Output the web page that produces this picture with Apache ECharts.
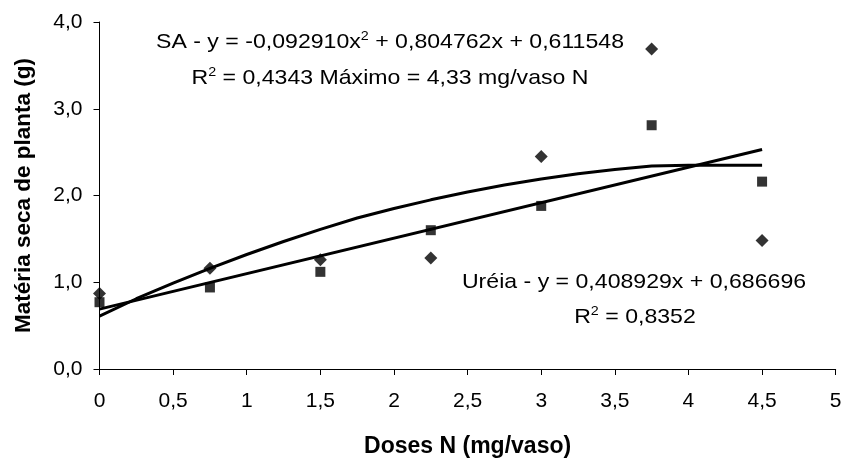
<!DOCTYPE html>
<html>
<head>
<meta charset="utf-8">
<script src="https://cdn.jsdelivr.net/npm/echarts@6/dist/echarts.min.js"></script>
<style>html,body{margin:0;padding:0;background:#fff;}#c{width:845px;height:463px;}</style>
</head>
<body>
<div id="c"></div>
<script>
// Doses N (mg/vaso)
const doses = [0, 0.75, 1.5, 2.25, 3, 3.75, 4.5];
// Observed dry matter (g)
const saValues = [0.87, 1.16, 1.26, 1.28, 2.45, 3.69, 1.48];
const ureiaValues = [0.77, 0.94, 1.12, 1.60, 1.88, 2.81, 2.16];
// Fitted SA curve
const saCurveX = [0, 0.25, 0.5, 0.75, 1, 1.25, 1.5, 1.75, 2, 2.25, 2.5, 2.75, 3, 3.25, 3.5, 3.75, 4, 4.25, 4.5];
const saCurveY = [0.61, 0.81, 0.99, 1.16, 1.32, 1.47, 1.61, 1.74, 1.85, 1.95, 2.04, 2.12, 2.19, 2.25, 2.30, 2.34, 2.35, 2.35, 2.35];
// Fitted Uréia line
const ureiaLineX = [0, 4.5];
const ureiaLineY = [0.69, 2.53];
// Axis ranges
const xTicks = [0, 0.5, 1, 1.5, 2, 2.5, 3, 3.5, 4, 4.5, 5];
const yTicks = [0, 1, 2, 3, 4];

const FONT = 'Liberation Sans, Arial, sans-serif';
const pair = (xs, ys) => xs.map((x, i) => [x, ys[i]]);
const comma = s => String(s).replace('.', ',');

const chart = echarts.init(document.getElementById('c'), null, {renderer: 'canvas'});
const supRich = {
  b: {fontSize: 21, fontFamily: FONT, color: '#000', lineHeight: 24},
  s: {fontSize: 13, fontFamily: FONT, color: '#000', verticalAlign: 'top', lineHeight: 14}
};
chart.setOption({
  backgroundColor: '#fff',
  animation: false,
  grid: {left: 99.5, right: 9.3, top: 22, bottom: 86.7, containLabel: false},
  xAxis: {
    type: 'value', min: xTicks[0], max: xTicks[xTicks.length - 1], interval: 0.5,
    name: 'Doses N (mg/vaso)', nameLocation: 'middle', nameGap: 66,
    nameTextStyle: {fontFamily: FONT, fontWeight: 'bold', fontSize: 23, color: '#000'},
    axisLine: {show: true, lineStyle: {color: '#000', width: 1}},
    axisTick: {show: true, inside: false, length: 6, lineStyle: {color: '#000'}},
    axisLabel: {margin: 22, fontFamily: FONT, fontSize: 21, color: '#000', formatter: v => comma(v)},
    splitLine: {show: false}
  },
  yAxis: {
    type: 'value', min: yTicks[0], max: yTicks[yTicks.length - 1], interval: 1,
    name: 'Matéria seca de planta (g)', nameLocation: 'middle', nameGap: 64, nameRotate: 90,
    nameTextStyle: {fontFamily: FONT, fontWeight: 'bold', fontSize: 22.5, color: '#000'},
    axisLine: {show: true, lineStyle: {color: '#000', width: 1}},
    axisTick: {show: true, inside: false, length: 6, lineStyle: {color: '#000'}},
    axisLabel: {margin: 17, fontFamily: FONT, fontSize: 21, color: '#000', formatter: v => comma(v.toFixed(1))},
    splitLine: {show: false}
  },
  series: [
    {name: 'SA ajuste', type: 'line', data: pair(saCurveX, saCurveY), smooth: false,
     showSymbol: false, symbol: 'none', lineStyle: {color: '#000', width: 3}, z: 2},
    {name: 'Uréia ajuste', type: 'line', data: pair(ureiaLineX, ureiaLineY),
     showSymbol: false, symbol: 'none', lineStyle: {color: '#000', width: 3}, z: 2},
    {name: 'SA', type: 'scatter', data: pair(doses, saValues), symbol: 'diamond', symbolSize: [13, 13],
     itemStyle: {color: '#000'}, z: 3},
    {name: 'Uréia', type: 'scatter', data: pair(doses, ureiaValues), symbol: 'rect', symbolSize: 10,
     itemStyle: {color: '#000'}, z: 3}
  ],
  graphic: [
    {type: 'text', x: 390, y: 42, scaleX: 1.1, style: {text: '{b|SA - y = -0,092910x}{s|2}{b| + 0,804762x + 0,611548}', rich: supRich, textAlign: 'center', textVerticalAlign: 'middle'}},
    {type: 'text', x: 390, y: 78, scaleX: 1.1, style: {text: '{b|R}{s|2}{b| = 0,4343 Máximo = 4,33 mg/vaso N}', rich: supRich, textAlign: 'center', textVerticalAlign: 'middle'}},
    {type: 'text', x: 634, y: 282, scaleX: 1.1, style: {text: '{b|Uréia - y = 0,408929x + 0,686696}', rich: supRich, textAlign: 'center', textVerticalAlign: 'middle'}},
    {type: 'text', x: 635, y: 317, scaleX: 1.1, style: {text: '{b|R}{s|2}{b| = 0,8352}', rich: supRich, textAlign: 'center', textVerticalAlign: 'middle'}}
  ]
});
</script>
</body>
</html>
